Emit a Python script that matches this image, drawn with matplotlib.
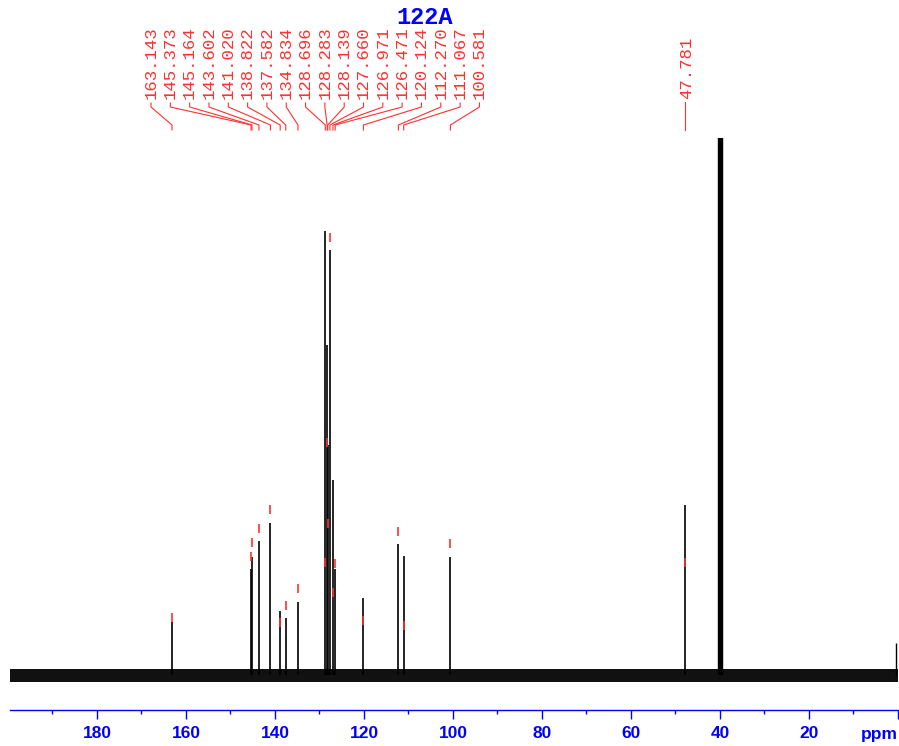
import matplotlib
matplotlib.use("Agg")
import matplotlib.pyplot as plt
from matplotlib.lines import Line2D

# 13C peaks: shift (ppm), drawn height and red pick-marker base (baseline = 0)
peak_ppm = [163.143, 145.373, 145.164, 143.602, 141.020, 138.822, 137.582,
            134.834, 128.696, 128.283, 128.139, 127.660, 126.971, 126.471,
            120.124, 112.270, 111.067, 100.581, 47.781]
peak_height = [53, 106, 118, 134, 152, 64, 57,
               73, 444, 330, 230, 425, 195, 106,
               77, 131, 119, 118, 170]
marker_base = [53, 114, 128, 142, 161, 48, 65,
               82, 108, 228, 147, 433, 78, 107,
               50, 139, 45, 127, 108]

# solvent septet (clipped at the top of the plot) and small reference peak
solvent_ppm = [40.32, 40.18, 40.04, 39.90, 39.76, 39.62, 39.48]
solvent_height = [600, 1600, 3200, 3800, 3200, 1600, 600]
ref_ppm = [0.5]
ref_height = [32]

# baseline noise band
noise_hi = 6
noise_lo = -7

title = "122A"
W, H = 899, 746

fig = plt.figure(figsize=(W / 100, H / 100), dpi=100)
ax = fig.add_axes([10 / W, 1 - 710 / H, 888 / W, 572 / H])
ax.set_xlim(199.54, 0)
ax.set_ylim(-35, 537)

ax.fill_between([199.54, 0], noise_lo, noise_hi, color="#111111", lw=0)
ax.vlines(peak_ppm, 0, peak_height, color="black", lw=1.2)
ax.vlines(solvent_ppm, 0, solvent_height, color="black", lw=1.6)
ax.vlines(ref_ppm, 0, ref_height, color="black", lw=1.0)
ax.vlines(peak_ppm, marker_base, [m + 9 for m in marker_base], color="#ff3030", lw=1.2)

# axis styling
for s in ["top", "left", "right"]:
    ax.spines[s].set_visible(False)
ax.spines["bottom"].set_color("blue")
ax.spines["bottom"].set_linewidth(1.0)
ax.set_yticks([])
ax.set_xticks([180, 160, 140, 120, 100, 80, 60, 40, 20, 0])
ax.set_xticklabels(["180", "160", "140", "120", "100", "80", "60", "40", "20", ""],
                   color="blue", fontweight="bold", fontfamily="Liberation Sans",
                   fontsize=12.5)
ax.set_xticks([190, 170, 150, 130, 110, 90, 70, 50, 30, 10], minor=True)
ax.tick_params(axis="x", which="major", direction="out", length=6.5, width=1.0, color="blue", pad=5)
ax.tick_params(axis="x", which="minor", direction="out", length=3, width=1.0, color="blue")
fig.text(879 / W, 1 - 735 / H, "ppm", color="blue", fontweight="bold",
         fontfamily="Liberation Sans", fontsize=12.5, ha="center", va="center")

fig.text(425 / W, 1 - 18 / H, title, color="blue", fontweight="bold",
         fontfamily="Liberation Mono", fontsize=17, ha="center", va="center")

# peak labels with leader lines
fig.canvas.draw()
def fx(px):
    return px / W
def fy(py):
    return 1 - py / H

n_spread = 18
for i in range(len(peak_ppm)):
    px = ax.transData.transform((peak_ppm[i], 0))[0]
    if i < n_spread:
        lx = 151 + i * 19.32
        xs = [lx, lx, px, px]
        ys = [103, 107, 125, 130]
    else:
        lx = px + 1
        xs = [px, px]
        ys = [102, 130]
    fig.add_artist(Line2D([fx(x) for x in xs], [fy(y) for y in ys],
                          transform=fig.transFigure, color="#ff3030", lw=0.8))
    fig.text(fx(lx), fy(99), "%.3f" % peak_ppm[i], rotation=90, color="#ff3030",
             fontfamily="Liberation Mono", fontsize=12.5, ha="center", va="bottom")

fig.savefig("out.png", dpi=100)
